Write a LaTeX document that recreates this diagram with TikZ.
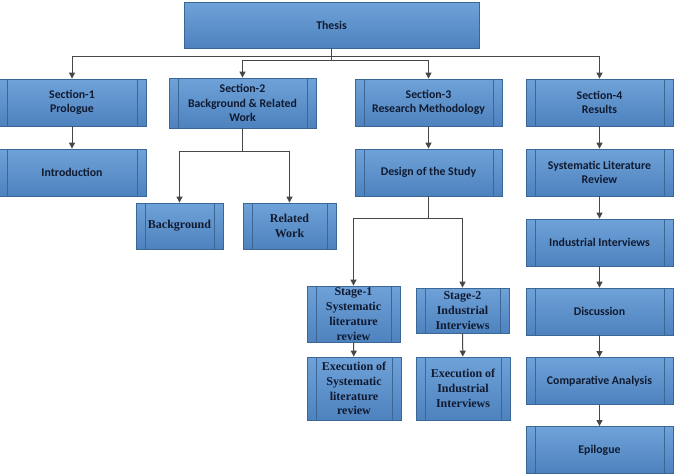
\documentclass[tikz,border=0pt]{standalone}
\usepackage{fontspec}
\setmainfont{Carlito}
\newfontfamily\tms{Liberation Serif}
\usetikzlibrary{arrows.meta}
\definecolor{topc}{HTML}{6FA2D8}
\definecolor{botc}{HTML}{4E82BE}
\definecolor{bordc}{HTML}{3A6795}
\definecolor{txtc}{HTML}{101A30}
\definecolor{linec}{HTML}{474747}
\tikzset{
  box/.style={draw=bordc, line width=0.8pt, top color=topc, bottom color=botc, text=txtc,
    font=\bfseries\fontsize{11.8}{14.3}\selectfont, align=center, inner sep=0pt},
  proc/.style={box, path picture={\draw[bordc, line width=0.8pt]
    ([xshift=9pt]path picture bounding box.north west) -- ([xshift=9pt]path picture bounding box.south west)
    ([xshift=-9pt]path picture bounding box.north east) -- ([xshift=-9pt]path picture bounding box.south east);}},
  tbox/.style={proc, font=\tms\bfseries\fontsize{12}{14.8}\selectfont},
  sz/.style 2 args={minimum width=#1pt, minimum height=#2pt},
  arr/.style={draw=linec, line width=1pt, -{Triangle[width=6pt,length=6pt]}},
}
\begin{document}
\begin{tikzpicture}[x=1pt,y=-1pt]
\useasboundingbox (0,0) rectangle (678,475);
\fill[white] (0,0) rectangle (678,475);
\node[box, sz={295}{46}] (thesis) at (331.5,25) {Thesis};
\node[proc, sz={148}{47}] (s1) at (72,102.5) {Section-1\\Prologue};
\node[proc, sz={148}{47}] (intro) at (72,172.5) {Introduction};
\node[proc, sz={147}{50}] (s2) at (242.5,103) {Section-2\\Background \& Related\\Work};
\node[proc, sz={147}{47}] (s3) at (428.5,102.5) {Section-3\\Research Methodology};
\node[proc, sz={147}{47}] (design) at (428.5,172.5) {Design of the Study};
\node[proc, sz={147}{47}] (s4) at (599.5,102.5) {Section-4\\Results};
\node[proc, sz={147}{47}] (slr) at (599.5,172.5) {Systematic Literature\\Review};
\node[proc, sz={147}{47}] (ii) at (599.5,242.5) {Industrial Interviews};
\node[proc, sz={147}{47}] (disc) at (599.5,311.5) {Discussion};
\node[proc, sz={147}{47}] (comp) at (599.5,381) {Comparative Analysis};
\node[proc, sz={147}{47}] (epi) at (599.5,450) {Epilogue};
\node[tbox, sz={87}{46}] (bg) at (179.5,226) {Background};
\node[tbox, sz={93}{46}] (rw) at (289.5,226) {Related\\Work};
\node[tbox, sz={93}{56}] (st1) at (353.5,314) {Stage-1\\Systematic\\literature\\review};
\node[tbox, sz={93}{45}] (st2) at (462.5,310.5) {Stage-2\\Industrial\\Interviews};
\node[tbox, sz={94}{63}] (ex1) at (354,388.5) {Execution of\\Systematic\\literature\\review};
\node[tbox, sz={94}{63}] (ex2) at (463,388.5) {Execution of\\Industrial\\Interviews};
% connectors
\draw[arr] (thesis.south) -- ++(0,8) -| (s1.north);
\draw[arr] (thesis.south) -- ++(0,8) -| (s4.north);
\draw[arr] (thesis.south) -- ++(0,12) -| (s2.north);
\draw[arr] (thesis.south) -- ++(0,12) -| (s3.north);
\draw[arr] (s1) -- (intro);
\draw[arr] (s3) -- (design);
\draw[arr] (s2.south) -- ++(0,23) -| (bg.north);
\draw[arr] (s2.south) -- ++(0,23) -| (rw.north);
\draw[arr] (design.south) -- ++(0,22) -| (st1.north);
\draw[arr] (design.south) -- ++(0,22) -| (st2.north);
\draw[arr] (st1) -- (ex1);
\draw[arr] (st2) -- (ex2);
\draw[arr] (s4) -- (slr);
\draw[arr] (slr) -- (ii);
\draw[arr] (ii) -- (disc);
\draw[arr] (disc) -- (comp);
\draw[arr] (comp) -- (epi);
\end{tikzpicture}
\end{document}
